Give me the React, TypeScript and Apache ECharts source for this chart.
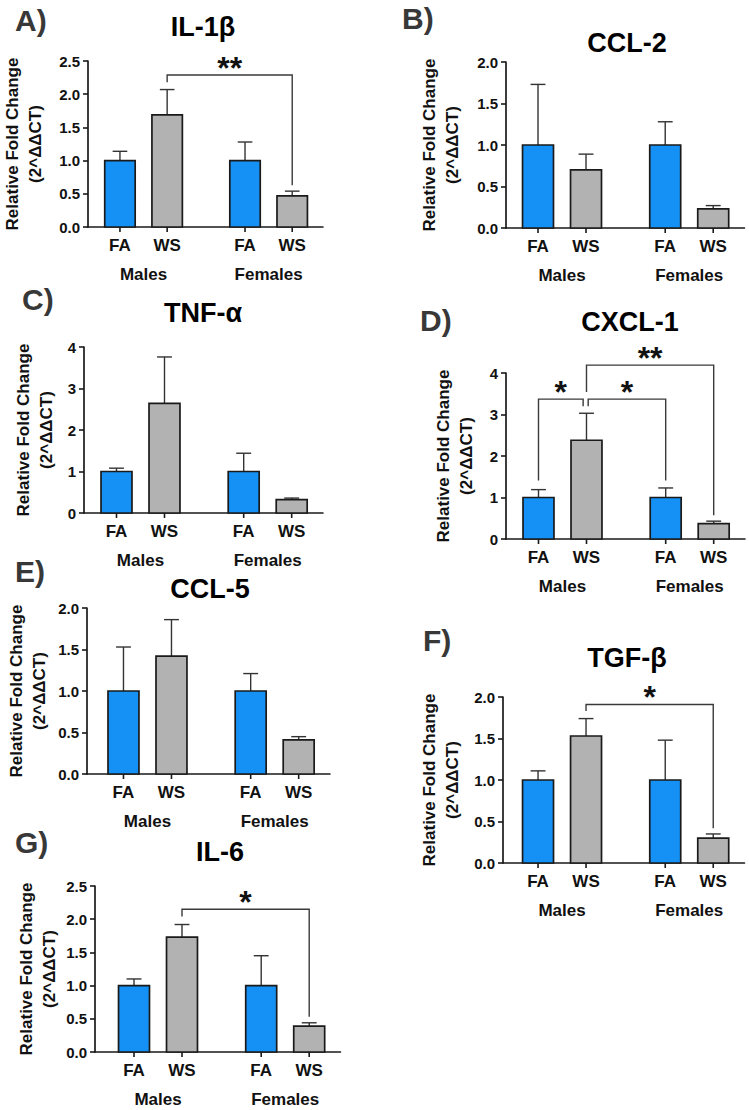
import React, { useEffect, useRef } from "react";
import * as echarts from "echarts";

const FONT = '"Liberation Sans", Arial, Helvetica, sans-serif';

// ---------- data ----------
const treatments = ["FA", "WS", "FA", "WS"];
const sexes = ["Males", "Females"];
const panelLetters = ["A)", "B)", "C)", "D)", "E)", "F)", "G)"];
const genes = ["IL-1β", "CCL-2", "TNF-α", "CXCL-1", "CCL-5", "TGF-β", "IL-6"];
const yAxisTitle = "Relative Fold Change\n(2^ΔΔCT)";

// mean values: [FA Males, WS Males, FA Females, WS Females]
const il1bMean = [1.0, 1.69, 1.0, 0.47];
const ccl2Mean = [1.0, 0.7, 1.0, 0.23];
const tnfaMean = [1.0, 2.64, 1.0, 0.32];
const cxcl1Mean = [1.0, 2.38, 1.0, 0.37];
const ccl5Mean = [1.0, 1.42, 1.0, 0.41];
const tgfbMean = [1.0, 1.53, 1.0, 0.3];
const il6Mean = [1.0, 1.73, 1.0, 0.39];

// top of the (upper) error bar
const il1bErr = [1.14, 2.07, 1.28, 0.54];
const ccl2Err = [1.73, 0.89, 1.28, 0.27];
const tnfaErr = [1.08, 3.76, 1.44, 0.36];
const cxcl1Err = [1.19, 3.03, 1.23, 0.43];
const ccl5Err = [1.53, 1.86, 1.21, 0.45];
const tgfbErr = [1.11, 1.74, 1.48, 0.35];
const il6Err = [1.1, 1.92, 1.45, 0.44];

const yMaxes = [2.5, 2.0, 4, 4, 2.0, 2.0, 2.5];
const yIntervals = [0.5, 0.5, 1, 1, 0.5, 0.5, 0.5];

// significance brackets (bar indices, levels in data units)
const il1bBrackets = [{ from: 1, to: 3, level: 2.29, fromEnd: 2.18, toEnd: 0.63, label: "**" }];
const cxcl1Brackets = [
  { from: 0, to: 1, toShift: -0.07, level: 3.37, fromEnd: 1.41, toEnd: 3.2, label: "*" },
  { from: 1, to: 2, fromShift: 0.035, level: 3.37, fromEnd: 3.2, toEnd: 1.41, label: "*" },
  { from: 1, to: 3, level: 4.19, fromEnd: 3.54, toEnd: 0.57, label: "**" },
];
const tgfbBrackets = [{ from: 1, to: 3, level: 1.91, fromEnd: 1.83, toEnd: 0.42, label: "*" }];
const il6Brackets = [{ from: 1, to: 3, level: 2.15, fromEnd: 2.04, toEnd: 0.53, label: "*" }];

const means = [il1bMean, ccl2Mean, tnfaMean, cxcl1Mean, ccl5Mean, tgfbMean, il6Mean];
const errTops = [il1bErr, ccl2Err, tnfaErr, cxcl1Err, ccl5Err, tgfbErr, il6Err];
const bracketSets: any[][] = [il1bBrackets, [], [], cxcl1Brackets, [], tgfbBrackets, il6Brackets];

// ---------- layout ----------
const UNIT = 48; // px per bar slot
const X_MAX = 5.3;
const GROUP_GAP = 0.65;
const PLOT_H = 166;
const layouts = [
  { left: 84, top: 61, xMin: 0.323, nameGap: 41, title: [203, 27], letter: [15, 20] },
  { left: 506, top: 62, xMin: 0.333, nameGap: 42, title: [627, 43], letter: [402, 18] },
  { left: 84, top: 347, xMin: 0.323, nameGap: 26, title: [203, 313], letter: [22, 299] },
  { left: 506, top: 373, xMin: 0.323, nameGap: 28, title: [630, 322], letter: [420, 320] },
  { left: 87, top: 608, xMin: 0.24, nameGap: 36, title: [210, 589], letter: [15, 571] },
  { left: 503, top: 697, xMin: 0.27, nameGap: 39, title: [627, 658], letter: [423, 640] },
  { left: 95, top: 886, xMin: 0.1875, nameGap: 34, title: [220, 852], letter: [15, 842] },
];

const BLUE = "#1591f6";
const GREY = "#b2b2b2";
const INK = "#1a1a1a";

const barPos = (j: number) => 1 + j + (j >= 2 ? GROUP_GAP : 0);

function buildOption() {
  const grid: any[] = [];
  const xAxis: any[] = [];
  const yAxis: any[] = [];
  const series: any[] = [];
  const graphic: any[] = [];

  layouts.forEach((L, i) => {
    grid.push({
      left: L.left,
      top: L.top,
      width: (X_MAX - L.xMin) * UNIT,
      height: PLOT_H,
      containLabel: false,
    });
    xAxis.push({
      gridIndex: i,
      type: "value",
      min: L.xMin,
      max: X_MAX,
      axisLine: { show: true, onZero: false, lineStyle: { color: INK, width: 1.7 } },
      axisTick: { show: false },
      axisLabel: { show: false },
      splitLine: { show: false },
    });
    const interval = yIntervals[i];
    yAxis.push({
      gridIndex: i,
      type: "value",
      min: 0,
      max: yMaxes[i],
      interval,
      axisLine: { show: true, lineStyle: { color: INK, width: 1.7 } },
      axisTick: { show: true, length: 5, lineStyle: { color: INK, width: 1.6 } },
      axisLabel: {
        fontFamily: FONT,
        fontSize: 15,
        fontWeight: "bold",
        color: "#111",
        margin: 8,
        formatter: (v: number) => (interval < 1 ? v.toFixed(1) : String(v)),
      },
      splitLine: { show: false },
      name: yAxisTitle,
      nameLocation: "middle",
      nameRotate: 90,
      nameGap: L.nameGap,
      nameTextStyle: {
        fontFamily: FONT,
        fontSize: 17,
        fontWeight: "bold",
        color: "#111",
        lineHeight: 23,
      },
    });

    const m = means[i];
    const e = errTops[i];
    series.push({
      type: "custom",
      xAxisIndex: i,
      yAxisIndex: i,
      clip: false,
      silent: true,
      data: treatments.map((t, j) => [barPos(j), m[j], e[j], j]),
      renderItem: (params: any, api: any) => {
        const x = api.value(0);
        const y = api.value(1);
        const et = api.value(2);
        const j = api.value(3);
        const base = api.coord([x, 0]);
        const top = api.coord([x, y]);
        const errP = api.coord([x, et]);
        const halfW = api.size([0.645, 0])[0] / 2;
        const capHalf = api.size([0.31, 0])[0] / 2;
        const isWS = j % 2 === 1;
        return {
          type: "group",
          children: [
            {
              type: "line",
              shape: { x1: top[0], y1: top[1], x2: errP[0], y2: errP[1] },
              style: { stroke: "#333", lineWidth: 1.4 },
            },
            {
              type: "line",
              shape: { x1: errP[0] - capHalf, y1: errP[1], x2: errP[0] + capHalf, y2: errP[1] },
              style: { stroke: "#333", lineWidth: 1.4 },
            },
            {
              type: "rect",
              shape: { x: base[0] - halfW, y: top[1], width: halfW * 2, height: base[1] - top[1] },
              style: { fill: isWS ? GREY : BLUE, stroke: INK, lineWidth: 1.7 },
            },
            {
              type: "line",
              shape: { x1: base[0], y1: base[1], x2: base[0], y2: base[1] + 5 },
              style: { stroke: INK, lineWidth: 1.6 },
            },
            {
              type: "text",
              style: {
                text: treatments[j],
                x: base[0],
                y: base[1] + 18,
                align: "center",
                verticalAlign: "middle",
                textAlign: "center",
                textVerticalAlign: "middle",
                font: `bold 17px ${FONT}`,
                fill: "#111",
              },
            },
          ],
        };
      },
    });

    // group (sex) labels
    series.push({
      type: "custom",
      xAxisIndex: i,
      yAxisIndex: i,
      clip: false,
      silent: true,
      data: sexes.map((s, k) => [(barPos(2 * k) + barPos(2 * k + 1)) / 2, 0, k]),
      renderItem: (params: any, api: any) => {
        const p = api.coord([api.value(0), 0]);
        return {
          type: "text",
          style: {
            text: sexes[api.value(2)],
            x: p[0],
            y: p[1] + 47,
            align: "center",
            verticalAlign: "middle",
            textAlign: "center",
            textVerticalAlign: "middle",
            font: `bold 17px ${FONT}`,
            fill: "#111",
          },
        };
      },
    });

    const bs = bracketSets[i];
    if (bs.length) {
      series.push({
        type: "custom",
        xAxisIndex: i,
        yAxisIndex: i,
        clip: false,
        silent: true,
        data: bs.map((b: any, k: number) => [
          barPos(b.from) + (b.fromShift || 0),
          b.level,
          barPos(b.to) + (b.toShift || 0),
          b.fromEnd,
          b.toEnd,
          k,
        ]),
        renderItem: (params: any, api: any) => {
          const fx = api.value(0);
          const lv = api.value(1);
          const tx = api.value(2);
          const p1 = api.coord([fx, api.value(3)]);
          const p2 = api.coord([fx, lv]);
          const p3 = api.coord([tx, lv]);
          const p4 = api.coord([tx, api.value(4)]);
          return {
            type: "group",
            children: [
              {
                type: "polyline",
                shape: { points: [p1, p2, p3, p4] },
                style: { stroke: "#3a3a3a", lineWidth: 1.4, fill: "none" },
              },
              {
                type: "text",
                style: {
                  text: bs[api.value(5)].label,
                  x: (p2[0] + p3[0]) / 2,
                  y: p2[1] - 7,
                  align: "center",
                  verticalAlign: "middle",
                  textAlign: "center",
                  textVerticalAlign: "middle",
                  font: `bold 32px ${FONT}`,
                  fill: "#111",
                },
              },
            ],
          };
        },
      });
    }

    graphic.push({
      type: "text",
      x: L.title[0],
      y: L.title[1],
      style: {
        text: genes[i],
        align: "center",
        verticalAlign: "middle",
        textAlign: "center",
        textVerticalAlign: "middle",
        font: `bold 27px ${FONT}`,
        fill: "#000",
      },
    });
    graphic.push({
      type: "text",
      x: L.letter[0],
      y: L.letter[1],
      style: {
        text: panelLetters[i],
        align: "left",
        verticalAlign: "middle",
        textAlign: "left",
        textVerticalAlign: "middle",
        font: `bold 30px ${FONT}`,
        fill: "#383838",
      },
    });
  });

  return {
    animation: false,
    backgroundColor: "#ffffff",
    grid,
    xAxis,
    yAxis,
    series,
    graphic,
  };
}

export default function App() {
  const ref = useRef<HTMLDivElement>(null);
  useEffect(() => {
    if (!ref.current) return;
    const chart = echarts.init(ref.current, undefined, { renderer: "svg" });
    chart.setOption(buildOption() as any);
    return () => chart.dispose();
  }, []);
  return (
    <div
      ref={ref}
      style={{ position: "absolute", left: 0, top: 0, width: 749, height: 1110, background: "#fff" }}
    />
  );
}
